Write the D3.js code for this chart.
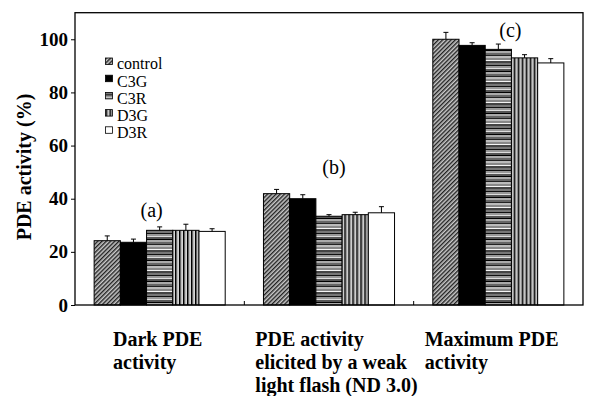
<!DOCTYPE html>
<html>
<head>
<meta charset="utf-8">
<script src="https://cdn.jsdelivr.net/npm/d3@7"></script>
<style>
  body { margin: 0; background: #fff; }
  svg { display: block; font-family: "Liberation Serif", "Times New Roman", serif; }
</style>
</head>
<body>
<div id="chart"></div>
<script>
// data
var categories = ["Dark PDE activity", "PDE activity elicited by a weak light flash (ND 3.0)", "Maximum PDE activity"];
var categoryLines = [["Dark PDE", "activity"], ["PDE activity", "elicited by a weak", "light flash (ND 3.0)"], ["Maximum PDE", "activity"]];
var series = ["control", "C3G", "C3R", "D3G", "D3R"];
var control = [24.2, 41.9, 100.0];
var controlErr = [1.8, 1.6, 2.6];
var c3g = [23.6, 40.0, 97.7];
var c3gErr = [1.2, 1.5, 1.0];
var c3r = [28.1, 33.4, 96.2];
var c3rErr = [1.3, 0.6, 2.0];
var d3g = [28.1, 34.0, 93.0];
var d3gErr = [2.3, 0.9, 1.2];
var d3r = [27.7, 34.7, 91.1];
var d3rErr = [1.0, 2.3, 1.6];
var groupLabels = ["(a)", "(b)", "(c)"];
var groupLabelY = [33.3, 49.3, 100.9];
var yTicks = [0, 20, 40, 60, 80, 100];

var values = [control, c3g, c3r, d3g, d3r];
var errors = [controlErr, c3gErr, c3rErr, d3gErr, d3rErr];

var W = 594, H = 396;
var plotL = 75, plotR = 583, plotT = 12.7, plotB = 305;

var svg = d3.select("#chart").append("svg")
    .attr("width", W)
    .attr("height", H);

var defs = svg.append("defs");

// control: dense diagonal hatch
var p1 = defs.append("pattern")
    .attr("id", "pat-control")
    .attr("patternUnits", "userSpaceOnUse")
    .attr("width", 3).attr("height", 3)
    .attr("patternTransform", "rotate(45)");
p1.append("rect").attr("width", 3).attr("height", 3).attr("fill", "#c8c8c8");
p1.append("rect").attr("width", 1.4).attr("height", 3).attr("fill", "#222");

// C3G: solid black (no pattern)

// C3R: horizontal grey stripes
var stripes = [["#777", 2], ["#111", 1], ["#999", 2], ["#ddd", 1], ["#555", 2], ["#000", 1],
               ["#aaa", 2], ["#666", 2], ["#222", 1], ["#bbb", 2], ["#888", 2], ["#f4f4f4", 1], ["#444", 2]];
var stripeH = d3.sum(stripes, function(s){ return s[1]; });
var p3 = defs.append("pattern")
    .attr("id", "pat-c3r")
    .attr("patternUnits", "userSpaceOnUse")
    .attr("width", 10).attr("height", stripeH);
var sy = 0;
stripes.forEach(function(s){
  p3.append("rect").attr("x", 0).attr("y", sy).attr("width", 10).attr("height", s[1]).attr("fill", s[0]);
  sy += s[1];
});

// D3G: vertical black / grey lines
var p4 = defs.append("pattern")
    .attr("id", "pat-d3g")
    .attr("patternUnits", "userSpaceOnUse")
    .attr("width", 4).attr("height", 10);
p4.append("rect").attr("width", 4).attr("height", 10).attr("fill", "#fff");
p4.append("rect").attr("x", 0).attr("width", 1.6).attr("height", 10).attr("fill", "#000");
p4.append("rect").attr("x", 2.5).attr("width", 0.8).attr("height", 10).attr("fill", "#777");

var fills = ["url(#pat-control)", "#000", "url(#pat-c3r)", "url(#pat-d3g)", "#fff"];

var x0 = d3.scaleBand().domain(d3.range(categories.length)).range([plotL, plotR]);
var inner = x0.bandwidth() * 0.113;
var x1 = d3.scaleBand().domain(series).range([inner, x0.bandwidth() - inner]);
var y = d3.scaleLinear().domain([0, 110]).range([plotB, plotT]);

// bars
var groups = svg.selectAll("g.group")
  .data(categories)
  .enter().append("g")
    .attr("class", "group")
    .attr("transform", function(d, i){ return "translate(" + x0(i) + ",0)"; });

groups.each(function(c, ci){
  var g = d3.select(this);
  series.forEach(function(s, si){
    var v = values[si][ci], e = errors[si][ci];
    var bx = x1(s), bw = x1.bandwidth();
    g.append("rect")
      .attr("x", bx).attr("y", y(v))
      .attr("width", bw).attr("height", y(0) - y(v))
      .attr("fill", fills[si])
      .attr("stroke", "#000").attr("stroke-width", 1);
    var cx = bx + bw / 2;
    g.append("line")
      .attr("x1", cx).attr("x2", cx)
      .attr("y1", y(v)).attr("y2", y(v + e))
      .attr("stroke", "#000").attr("stroke-width", 1);
    g.append("line")
      .attr("x1", cx - 2.5).attr("x2", cx + 2.5)
      .attr("y1", y(v + e)).attr("y2", y(v + e))
      .attr("stroke", "#000").attr("stroke-width", 1);
  });
});

// group labels (a) (b) (c)
var labelDx = [-8, 5, 12];
svg.selectAll("text.glabel")
  .data(groupLabels)
  .enter().append("text")
    .attr("class", "glabel")
    .attr("x", function(d, i){ return x0(i) + x0.bandwidth() / 2 + labelDx[i]; })
    .attr("y", function(d, i){ return y(groupLabelY[i]); })
    .attr("text-anchor", "middle")
    .attr("font-size", 20)
    .text(function(d){ return d; });

// frame
svg.append("rect")
  .attr("x", plotL).attr("y", plotT)
  .attr("width", plotR - plotL).attr("height", plotB - plotT)
  .attr("fill", "none").attr("stroke", "#000").attr("stroke-width", 1.3);

// x ticks between categories, pointing inward
svg.selectAll("line.xtick")
  .data(d3.range(1, categories.length))
  .enter().append("line")
    .attr("x1", function(i){ return x0(i); })
    .attr("x2", function(i){ return x0(i); })
    .attr("y1", plotB).attr("y2", plotB - 4)
    .attr("stroke", "#000");

// y axis
var yAxis = svg.append("g")
    .attr("transform", "translate(" + plotL + ",0)")
    .call(d3.axisLeft(y).tickValues(yTicks).tickSize(4).tickPadding(3));
yAxis.select(".domain").remove();
yAxis.selectAll("text")
    .attr("font-family", "Liberation Serif, Times New Roman, serif")
    .attr("font-size", 19)
    .attr("font-weight", "bold")
    .attr("fill", "#000");
yAxis.selectAll("line").attr("stroke", "#000");

svg.append("text")
  .attr("transform", "translate(31," + 167 + ") rotate(-90)")
  .attr("text-anchor", "middle")
  .attr("font-size", 20)
  .attr("font-weight", "bold")
  .text("PDE activity (%)");

// category labels
var catDx = [38, 11, 11];
svg.selectAll("text.cat")
  .data(categoryLines)
  .enter().append("text")
    .attr("class", "cat")
    .attr("font-size", 20)
    .attr("font-weight", "bold")
    .each(function(lines, i){
      var t = d3.select(this);
      lines.forEach(function(l, li){
        t.append("tspan")
          .attr("x", x0(i) + catDx[i])
          .attr("y", 345.5 + li * 23)
          .text(l);
      });
    });

// legend
var legend = svg.append("g").attr("transform", "translate(105.5,58)");
series.forEach(function(s, i){
  var row = legend.append("g").attr("transform", "translate(0," + (i * 17.2) + ")");
  row.append("rect")
    .attr("width", 7).attr("height", 6.5)
    .attr("fill", fills[i])
    .attr("stroke", "#000").attr("stroke-width", 0.8);
  row.append("text")
    .attr("x", 11.5).attr("y", 11.3)
    .attr("font-size", 16)
    .text(s);
});
</script>
</body>
</html>
